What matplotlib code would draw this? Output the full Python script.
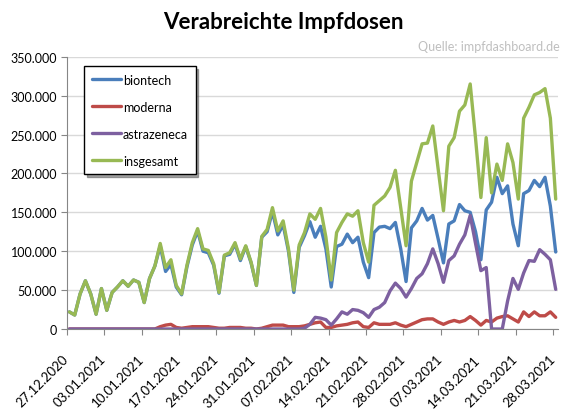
import numpy as np
import matplotlib
matplotlib.use("Agg")
import matplotlib.pyplot as plt
import matplotlib.transforms as mtransforms
from matplotlib.ticker import FuncFormatter

plt.rcParams['font.family'] = ['Lato', 'DejaVu Sans']

# daily doses in thousands, 27.12.2020 .. 28.03.2021
biontech = [22, 18, 45, 62, 45, 19, 52, 24, 47, 54,
            62, 55, 63, 60, 34, 65, 81, 107, 74, 83,
            54, 44, 80, 108, 126, 100, 98, 82, 46, 94,
            96, 109, 88, 106, 85, 56, 118, 125, 151, 121,
            134, 100, 47, 105, 120, 138, 118, 132, 103, 54,
            106, 109, 122, 111, 118, 86, 66, 124, 131, 132,
            129, 137, 103, 61, 130, 139, 155, 140, 146, 116,
            85, 135, 139, 160, 152, 150, 125, 89, 153, 163,
            195, 174, 184, 135, 107, 174, 178, 191, 183, 195,
            158, 99]
moderna = [0] * 17 + [
    3, 5, 6, 2, 1, 2, 3, 3, 3, 3, 2, 1, 1, 2, 2, 2, 1, 1, 0,
    1, 3, 5, 5, 5, 3, 3, 3, 4, 6, 8, 9, 2, 2, 4, 5, 6, 8, 9,
    3, 2, 8, 6, 6, 6, 8, 5, 3, 6, 9, 12, 13, 13, 9, 6, 9, 11,
    9, 11, 16, 11, 5, 11, 9, 14, 16, 17, 13, 9, 22, 16, 22,
    17, 17, 22, 15]
astrazeneca = [0] * 44 + [
    1, 6, 15, 14, 12, 5, 13, 22, 19, 25, 24, 21, 15, 25, 28,
    34, 49, 59, 52, 41, 52, 65, 71, 84, 103, 84, 60, 88, 94,
    109, 121, 146, 110, 75, 79, 0, 0, 0, 36, 65, 51, 72, 88,
    87, 102, 96, 89, 51]
insgesamt = [22, 18, 45, 62, 45, 19, 52, 24, 47, 54,
             62, 55, 63, 60, 34, 65, 81, 110, 79, 89,
             56, 45, 82, 111, 129, 103, 101, 84, 47, 95,
             98, 111, 90, 107, 86, 56, 119, 128, 156, 126,
             139, 103, 50, 108, 124, 148, 141, 155, 118, 63,
             124, 137, 148, 145, 152, 111, 86, 159, 165, 171,
             182, 204, 156, 107, 190, 214, 238, 239, 261, 206,
             152, 235, 246, 280, 288, 315, 245, 169, 246, 175,
             212, 191, 238, 214, 167, 271, 285, 301, 304, 309,
             271, 167]

week_labels = ['27.12.2020', '03.01.2021', '10.01.2021', '17.01.2021',
               '24.01.2021', '31.01.2021', '07.02.2021', '14.02.2021',
               '21.02.2021', '28.02.2021', '07.03.2021', '14.03.2021',
               '21.03.2021', '28.03.2021']

series = [('biontech', biontech, '#4a7ebb'),
          ('moderna', moderna, '#be4b48'),
          ('astrazeneca', astrazeneca, '#7d60a0'),
          ('insgesamt', insgesamt, '#98b954')]

fig = plt.figure(figsize=(5.76, 4.10), dpi=100)
ax = fig.add_axes([0.1158, 0.1951, 0.8536, 0.6641])

days = np.arange(len(insgesamt))
for name, vals, col in series:
    ax.plot(days, np.array(vals) * 1000, color=col, lw=2.4, label=name,
            solid_joinstyle='round', solid_capstyle='round')

ax.set_ylim(0, 350000)
ax.set_xlim(-0.5, len(days) - 0.5)
ax.set_yticks(np.arange(0, 350001, 50000))
ax.yaxis.set_major_formatter(FuncFormatter(lambda v, p: f"{int(v):,}".replace(",", ".")))
ax.set_xticks(np.arange(0, len(days), 7) - 0.5)
ax.set_xticklabels(week_labels, rotation=45, ha='right', va='center',
                   rotation_mode='anchor')
# nudge the slanted date labels a little to the right, like the original
shift = mtransforms.ScaledTranslation(0.05, 0.01, fig.dpi_scale_trans)
for lab in ax.get_xticklabels():
    lab.set_transform(lab.get_transform() + shift)
ax.grid(axis='y', color='#d9d9d9', lw=1)
ax.set_axisbelow(True)
for s in ['top', 'right']:
    ax.spines[s].set_visible(False)
for s in ['left', 'bottom']:
    ax.spines[s].set_color('#868686')
ax.tick_params(axis='y', length=4, color='#868686', labelsize=9, pad=3)
ax.tick_params(axis='x', length=4, color='#868686', labelsize=9.5, pad=16)

leg = ax.legend(loc='upper left', bbox_to_anchor=(0.1464, 0.8359),
                bbox_transform=fig.transFigure, borderaxespad=0,
                fancybox=False, shadow=True, fontsize=9, labelspacing=1.2,
                handlelength=2.3, handletextpad=0.2, borderpad=0.6)
leg.get_frame().set_edgecolor('black')
leg.get_frame().set_linewidth(1)

fig.text(0.492, 0.946, 'Verabreichte Impfdosen', ha='center', va='center',
         fontsize=16, fontweight='bold')
fig.text(0.972, 0.885, 'Quelle: impfdashboard.de', ha='right', va='center',
         fontsize=9, color='#bfbfbf')

fig.savefig('out.png', dpi=100)
